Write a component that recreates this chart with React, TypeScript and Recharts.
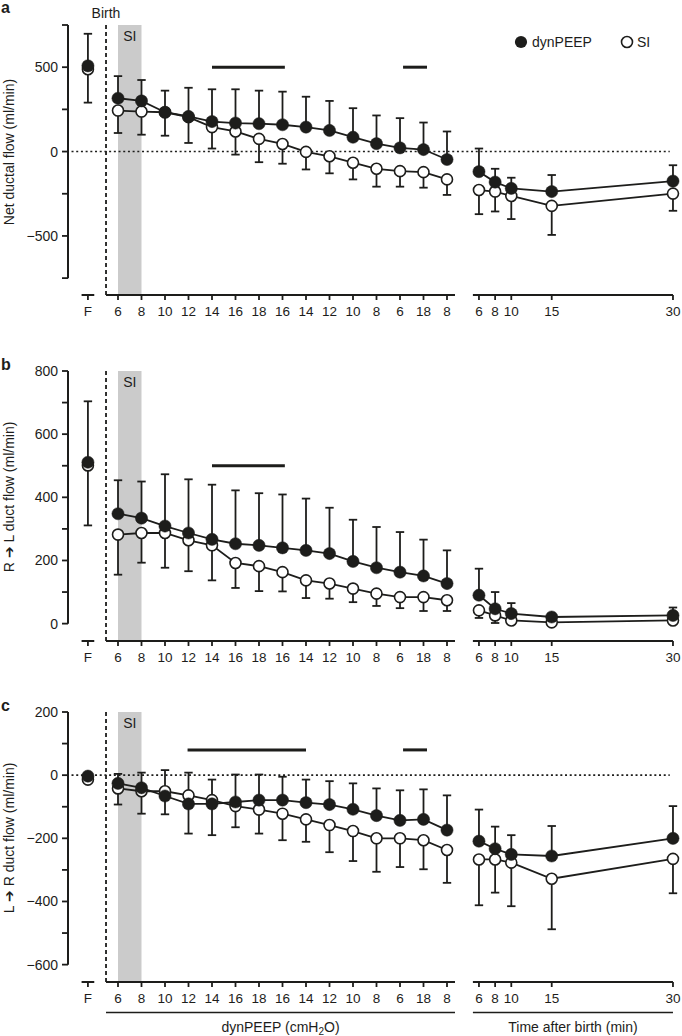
import React from 'react';
import {
  ComposedChart,
  Line,
  XAxis,
  YAxis,
  ErrorBar,
  ReferenceLine,
  ReferenceArea,
} from 'recharts';

const FONT = '"Liberation Sans", Arial, Helvetica, sans-serif';
const INK = '#1d1d1b';

// x categories: fetal value, dynPEEP steps (cmH2O), minutes after birth
const fetalLabel = 'F';
const peepSteps = ['6', '8', '10', '12', '14', '16', '18', '16', '14', '12', '10', '8', '6', '18', '8'];
const minutesAfterBirth = [6, 8, 10, 15, 30];

// every series: [F, 15 PEEP steps, 5 time points]
// a - net ductal flow (ml/min)
const netDyn = [508, 316, 300, 233, 208, 178, 169, 165, 159, 145, 125, 85, 47, 22, 12, -47, -119, -181, -218, -237, -175];
const netDynSd = [190, 131, 124, 128, 170, 191, 200, 196, 196, 180, 175, 172, 167, 176, 160, 166, 137, 79, 63, 98, 94];
const netSi = [488, 243, 237, 233, 204, 145, 119, 75, 45, -2, -28, -66, -102, -116, -122, -165, -228, -237, -263, -322, -249];
const netSiSd = [198, 133, 137, 139, 153, 127, 137, 138, 117, 104, 101, 99, 106, 92, 92, 92, 143, 118, 137, 172, 102];

// b - R->L duct flow (ml/min)
const rlDyn = [511, 348, 334, 309, 287, 267, 253, 248, 240, 232, 222, 197, 177, 163, 151, 127, 90, 47, 32, 21, 26];
const rlDynSd = [193, 106, 116, 164, 170, 173, 169, 165, 169, 164, 145, 132, 129, 127, 115, 105, 84, 53, 33, 9, 25];
const rlSi = [501, 282, 287, 287, 264, 248, 192, 182, 163, 137, 127, 111, 95, 84, 84, 74, 42, 26, 10, 4, 10];
const rlSiSd = [190, 127, 94, 110, 98, 111, 79, 79, 61, 56, 48, 43, 39, 35, 44, 34, 24, 24, 10, 4, 8];

// c - L->R duct flow (ml/min)
const lrDyn = [-3, -26, -40, -66, -91, -91, -85, -79, -79, -87, -93, -108, -128, -143, -140, -174, -209, -233, -251, -256, -200];
const lrDynSd = [0, 30, 48, 82, 99, 77, 87, 81, 74, 73, 74, 82, 86, 95, 95, 110, 100, 70, 61, 95, 102];
const lrSi = [-14, -42, -51, -51, -64, -79, -98, -109, -122, -140, -158, -177, -200, -200, -206, -237, -267, -267, -277, -328, -265];
const lrSiSd = [0, 51, 71, 73, 121, 111, 67, 76, 84, 71, 86, 95, 106, 91, 92, 104, 145, 105, 138, 160, 109];

// layout of the broken x axis (one slot = one PEEP step)
const SLOT_PX = 23.5;
const SLOT0_PX = 118;
const PLOT_LEFT = 68;
const PLOT_RIGHT = 680;
const X_MIN = (PLOT_LEFT - SLOT0_PX) / SLOT_PX;
const X_MAX = (PLOT_RIGHT - SLOT0_PX) / SLOT_PX;
const F_POS = -1.28;
const BIRTH_POS = -0.51;
const PEEP_END = 14.34;
const timePos = (m: number) => 15.36 + (m - 6) * 0.344;
const slotToPx = (s: number) => SLOT0_PX + s * SLOT_PX;

const xPositions = [F_POS, ...peepSteps.map((_, i) => i), ...minutesAfterBirth.map(timePos)];
const xLabels = [fetalLabel, ...peepSteps, ...minutesAfterBirth.map(String)];
const groupOf = (k: number) => (k === 0 ? 0 : k <= peepSteps.length ? 1 : 2);

function buildRows(dyn: number[], dynSd: number[], si: number[], siSd: number[]) {
  const rows: any[] = [];
  xPositions.forEach((pos, k) => {
    if (k > 0 && groupOf(k) !== groupOf(k - 1)) {
      rows.push({ pos: (pos + xPositions[k - 1]) / 2, dyn: null, si: null });
    }
    rows.push({ pos, dyn: dyn[k], si: si[k], dynErr: [0, dynSd[k]], siErr: [siSd[k], 0] });
  });
  return rows;
}

const fmtY = (v: number) => (v < 0 ? `\u2212${-v}` : `${v}`);

interface PanelProps {
  top: number;
  rows: any[];
  yDomain: [number, number];
  axisRange: [number, number];
  yTicks: number[];
  yLabeled: number[];
  zeroLine: boolean;
  sigY: number;
  sigBars: { from: number; to: number }[];
}

function Panel({ top, rows, yDomain, axisRange, yTicks, yLabeled, zeroLine, sigY, sigBars }: PanelProps) {
  const bottom = yDomain[0];
  const axisSeg = (a: number, b: number, key: string) => (
    <ReferenceLine
      key={key}
      segment={[{ x: a, y: bottom }, { x: b, y: bottom }]}
      stroke={INK}
      strokeWidth={2}
      ifOverflow="visible"
    />
  );
  return (
    <div style={{ position: 'absolute', left: 0, top }}>
      <ComposedChart width={682} height={330} data={rows} margin={{ top: 25, right: 2, bottom: 5, left: 0 }}>
        <ReferenceArea
          x1={0}
          x2={1}
          y1={yDomain[0]}
          y2={yDomain[1]}
          fill="#cbcbcb"
          fillOpacity={1}
          stroke="none"
          ifOverflow="visible"
          label={{ value: 'SI', position: 'insideTop', offset: 6, fontSize: 14, fill: INK, fontFamily: FONT }}
        />
        <XAxis
          type="number"
          dataKey="pos"
          domain={[X_MIN, X_MAX]}
          allowDataOverflow
          ticks={xPositions}
          interval={0}
          tickFormatter={(_v: number, i: number) => xLabels[i]}
          axisLine={false}
          tickLine={{ stroke: INK, strokeWidth: 1.8 }}
          tickSize={5}
          tickMargin={6}
          height={30}
          tick={{ fontSize: 13.5, fill: INK, fontFamily: FONT }}
        />
        <YAxis
          type="number"
          domain={yDomain}
          allowDataOverflow
          ticks={yTicks}
          interval={0}
          tickFormatter={(v: number) => (yLabeled.includes(v) ? fmtY(v) : '')}
          axisLine={false}
          tickLine={{ stroke: INK, strokeWidth: 1.8 }}
          tickSize={6}
          tickMargin={4}
          width={68}
          tick={{ fontSize: 14, fill: INK, fontFamily: FONT }}
        />
        <ReferenceLine
          segment={[{ x: X_MIN, y: axisRange[0] }, { x: X_MIN, y: axisRange[1] }]}
          stroke={INK}
          strokeWidth={2}
          ifOverflow="visible"
        />
        {axisSeg(F_POS - 0.27, F_POS + 0.27, 'segF')}
        {axisSeg(BIRTH_POS, PEEP_END, 'segPeep')}
        {axisSeg(timePos(5.25), timePos(30), 'segTime')}
        <ReferenceLine x={BIRTH_POS} stroke={INK} strokeWidth={1.8} strokeDasharray="4 3" ifOverflow="visible" />
        {zeroLine && (
          <ReferenceLine
            segment={[{ x: X_MIN + 0.15, y: 0 }, { x: timePos(29.6), y: 0 }]}
            stroke={INK}
            strokeWidth={1.6}
            strokeDasharray="2 2.7"
          />
        )}
        {sigBars.map((b, i) => (
          <ReferenceLine
            key={`sig${i}`}
            segment={[{ x: b.from, y: sigY }, { x: b.to, y: sigY }]}
            stroke={INK}
            strokeWidth={3}
          />
        ))}
        {/* error bars first so the markers sit on top */}
        <Line dataKey="dyn" stroke="none" dot={false} activeDot={false} isAnimationActive={false}>
          <ErrorBar dataKey="dynErr" direction="y" width={4.2} stroke={INK} strokeWidth={1.8} />
        </Line>
        <Line dataKey="si" stroke="none" dot={false} activeDot={false} isAnimationActive={false}>
          <ErrorBar dataKey="siErr" direction="y" width={4.2} stroke={INK} strokeWidth={1.8} />
        </Line>
        <Line
          dataKey="si"
          stroke={INK}
          strokeWidth={1.8}
          dot={{ r: 5.5, fill: '#ffffff', stroke: INK, strokeWidth: 1.6 }}
          activeDot={false}
          isAnimationActive={false}
        />
        <Line
          dataKey="dyn"
          stroke={INK}
          strokeWidth={1.8}
          dot={{ r: 6.1, fill: INK, stroke: INK, strokeWidth: 0.5 }}
          activeDot={false}
          isAnimationActive={false}
        />
      </ComposedChart>
    </div>
  );
}

const txt = { fontFamily: FONT, fill: INK } as const;

function Overlay() {
  const peepMid = (slotToPx(BIRTH_POS) + slotToPx(PEEP_END)) / 2;
  const timeMid = (slotToPx(timePos(5.25)) + slotToPx(timePos(30))) / 2;
  const yLabel = (label: string, cy: number) => (
    <text x={9} y={cy} transform={`rotate(-90 9 ${cy})`} textAnchor="middle" dominantBaseline="central" fontSize={14} {...txt}>
      {label}
    </text>
  );
  return (
    <svg width={682} height={1036} style={{ position: 'absolute', left: 0, top: 0, pointerEvents: 'none' }}>
      <text x={1} y={13} fontSize={16} fontWeight="bold" {...txt}>a</text>
      <text x={1} y={370} fontSize={16} fontWeight="bold" {...txt}>b</text>
      <text x={1} y={711} fontSize={16} fontWeight="bold" {...txt}>c</text>
      <text x={slotToPx(BIRTH_POS)} y={18} textAnchor="middle" fontSize={14} {...txt}>Birth</text>

      <circle cx={521} cy={42} r={6.1} fill={INK} />
      <text x={532} y={47} fontSize={14} {...txt}>dynPEEP</text>
      <circle cx={627} cy={42} r={5.5} fill="#fff" stroke={INK} strokeWidth={1.6} />
      <text x={637} y={47} fontSize={14} {...txt}>SI</text>

      {yLabel('Net ductal flow (ml/min)', 152)}
      {yLabel('R \u2794 L duct flow (ml/min)', 497)}
      {yLabel('L \u2794 R duct flow (ml/min)', 838)}

      <line x1={slotToPx(BIRTH_POS)} x2={slotToPx(PEEP_END)} y1={1012.5} y2={1012.5} stroke={INK} strokeWidth={1.6} />
      <line x1={slotToPx(timePos(5.25))} x2={slotToPx(timePos(30))} y1={1012.5} y2={1012.5} stroke={INK} strokeWidth={1.6} />
      <text x={peepMid} y={1032} textAnchor="middle" fontSize={14} {...txt}>
        dynPEEP (cmH<tspan dy={3} fontSize={10}>2</tspan>
        <tspan dy={-3}>O)</tspan>
      </text>
      <text x={timeMid} y={1032} textAnchor="middle" fontSize={14} {...txt}>Time after birth (min)</text>
    </svg>
  );
}

export default function App() {
  return (
    <div style={{ position: 'absolute', left: 0, top: 0, width: 682, height: 1036, background: '#fff' }}>
      <Panel
        top={0}
        rows={buildRows(netDyn, netDynSd, netSi, netSiSd)}
        yDomain={[-850, 750]}
        axisRange={[-750, 750]}
        yTicks={[-750, -500, -250, 0, 250, 500, 750]}
        yLabeled={[-500, 0, 500]}
        zeroLine
        sigY={500}
        sigBars={[{ from: 4, to: 7.1 }, { from: 12.13, to: 13.15 }]}
      />
      <Panel
        top={346}
        rows={buildRows(rlDyn, rlDynSd, rlSi, rlSiSd)}
        yDomain={[-55, 800]}
        axisRange={[0, 800]}
        yTicks={[0, 100, 200, 300, 400, 500, 600, 700, 800]}
        yLabeled={[0, 200, 400, 600, 800]}
        zeroLine={false}
        sigY={500}
        sigBars={[{ from: 4, to: 7.1 }]}
      />
      <Panel
        top={687}
        rows={buildRows(lrDyn, lrDynSd, lrSi, lrSiSd)}
        yDomain={[-655, 200]}
        axisRange={[-600, 200]}
        yTicks={[-600, -500, -400, -300, -200, -100, 0, 100, 200]}
        yLabeled={[-600, -400, -200, 0, 200]}
        zeroLine
        sigY={80}
        sigBars={[{ from: 2.96, to: 8 }, { from: 12.13, to: 13.15 }]}
      />
      <Overlay />
    </div>
  );
}
